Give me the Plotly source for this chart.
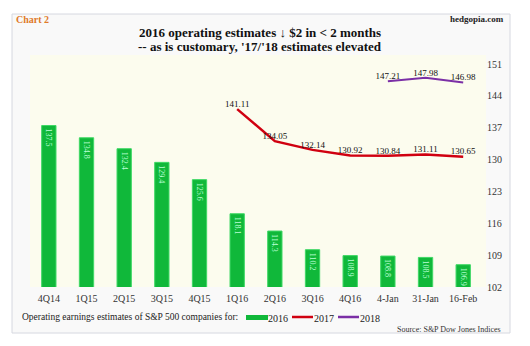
import plotly.graph_objects as go

categories = ["4Q14", "1Q15", "2Q15", "3Q15", "4Q15", "1Q16", "2Q16", "3Q16", "4Q16", "4-Jan", "31-Jan", "16-Feb"]
est_2016 = [137.5, 134.8, 132.4, 129.4, 125.6, 118.1, 114.3, 110.2, 108.9, 108.8, 108.5, 106.9]
cats_2017 = ["1Q16", "2Q16", "3Q16", "4Q16", "4-Jan", "31-Jan", "16-Feb"]
est_2017 = [141.11, 134.05, 132.14, 130.92, 130.84, 131.11, 130.65]
cats_2018 = ["4-Jan", "31-Jan", "16-Feb"]
est_2018 = [147.21, 147.98, 146.98]
y_ticks = [102, 109, 116, 123, 130, 137, 144, 151]
series_names = ["2016", "2017", "2018"]
series_colors = ["#10b83a", "#d00010", "#7b2fa6"]
title_lines = ["2016 operating estimates ↓ $2 in < 2 months",
               "-- as is customary, '17/'18 estimates elevated"]

SERIF = "Liberation Serif"

# geometry (px) for converting to paper coords
L, R, T, B = 30, 44, 55, 59
W, H = 530, 346
PW, PH = W - L - R, H - T - B
def px(x): return (x - L) / PW
def py(y): return (H - B - y) / PH

fig = go.Figure()
fig.add_trace(go.Bar(
    x=categories, y=est_2016, name=series_names[0],
    marker=dict(color=series_colors[0], line=dict(color="#3fd865", width=1)),
    text=[f"{v:.1f}" for v in est_2016], textposition="inside", insidetextanchor="end",
    textangle=90, constraintext="none",
    textfont=dict(family=SERIF, size=8, color="#b8ffd4"),
    width=0.38,
))
fig.add_trace(go.Scatter(
    x=cats_2017, y=est_2017, name=series_names[1], mode="lines+text",
    line=dict(color=series_colors[1], width=2.5),
    text=[f"{v:.2f}" for v in est_2017], textposition="top center",
    textfont=dict(family=SERIF, size=9, color="#111"),
))
fig.add_trace(go.Scatter(
    x=cats_2018, y=est_2018, name=series_names[2], mode="lines+text",
    line=dict(color=series_colors[2], width=2),
    text=[f"{v:.2f}" for v in est_2018], textposition="top center",
    textfont=dict(family=SERIF, size=9, color="#111"),
))

shapes = [
    dict(type="rect", xref="paper", yref="paper", x0=px(12), x1=px(510), y0=py(333), y1=py(14),
         fillcolor="#f9f9f9", line=dict(color="#d6d8e0", width=1), layer="below"),
    dict(type="rect", xref="paper", yref="paper", x0=0, x1=1, y0=0, y1=1,
         fillcolor="#fcfcee", line=dict(width=0), layer="below"),
]
annotations = [
    dict(text="<b>Chart 2</b>", xref="paper", yref="paper", x=px(14), y=py(20), xanchor="left",
         yanchor="middle", showarrow=False, font=dict(family=SERIF, size=10, color="#e07a2a")),
    dict(text="<b>hedgopia.com</b>", xref="paper", yref="paper", x=px(506), y=py(19), xanchor="right",
         yanchor="middle", showarrow=False, font=dict(family=SERIF, size=9, color="#222")),
    dict(text="Operating earnings estimates of S&P 500 companies for:", xref="paper", yref="paper",
         x=px(20), y=py(317), xanchor="left", yanchor="middle", showarrow=False,
         font=dict(family=SERIF, size=9.5, color="#222")),
    dict(text="Source: S&P Dow Jones Indices", xref="paper", yref="paper",
         x=px(503), y=py(329), xanchor="right", yanchor="middle", showarrow=False,
         font=dict(family=SERIF, size=8, color="#333")),
]
for line, yc in zip(title_lines, [32, 46]):
    annotations.append(dict(text=f"<b>{line}</b>", xref="paper", yref="paper", x=px(260), y=py(yc),
                            xanchor="center", yanchor="middle", showarrow=False,
                            font=dict(family=SERIF, size=13, color="#111")))

# manual compact legend
leg_x = [246, 292, 338]
for i, (name, col) in enumerate(zip(series_names, series_colors)):
    x0 = leg_x[i]
    if i == 0:
        shapes.append(dict(type="rect", xref="paper", yref="paper", x0=px(x0), x1=px(x0 + 22),
                           y0=py(320), y1=py(315), fillcolor=col, line=dict(width=0)))
    else:
        shapes.append(dict(type="line", xref="paper", yref="paper", x0=px(x0), x1=px(x0 + 21),
                           y0=py(317), y1=py(317), line=dict(color=col, width=2.5)))
    annotations.append(dict(text=name, xref="paper", yref="paper", x=px(x0 + 22), y=py(318),
                            xanchor="left", yanchor="middle", showarrow=False, xshift=-2,
                            font=dict(family=SERIF, size=10, color="#222")))

fig.update_layout(
    width=W, height=H,
    margin=dict(l=L, r=R, t=T, b=B),
    paper_bgcolor="white", plot_bgcolor="#fcfcee",
    font=dict(family=SERIF, color="#333"),
    xaxis=dict(showgrid=False, showline=False, ticks="", tickfont=dict(family=SERIF, size=10, color="#333"),
               categoryorder="array", categoryarray=categories, ticklabelstandoff=4),
    yaxis=dict(side="right", range=[102, 153], tickvals=y_ticks, showgrid=False, zeroline=False,
               showline=False, ticks="", tickfont=dict(family=SERIF, size=10, color="#333")),
    showlegend=False,
    shapes=shapes,
    annotations=annotations,
)

fig.write_html("out.html")
